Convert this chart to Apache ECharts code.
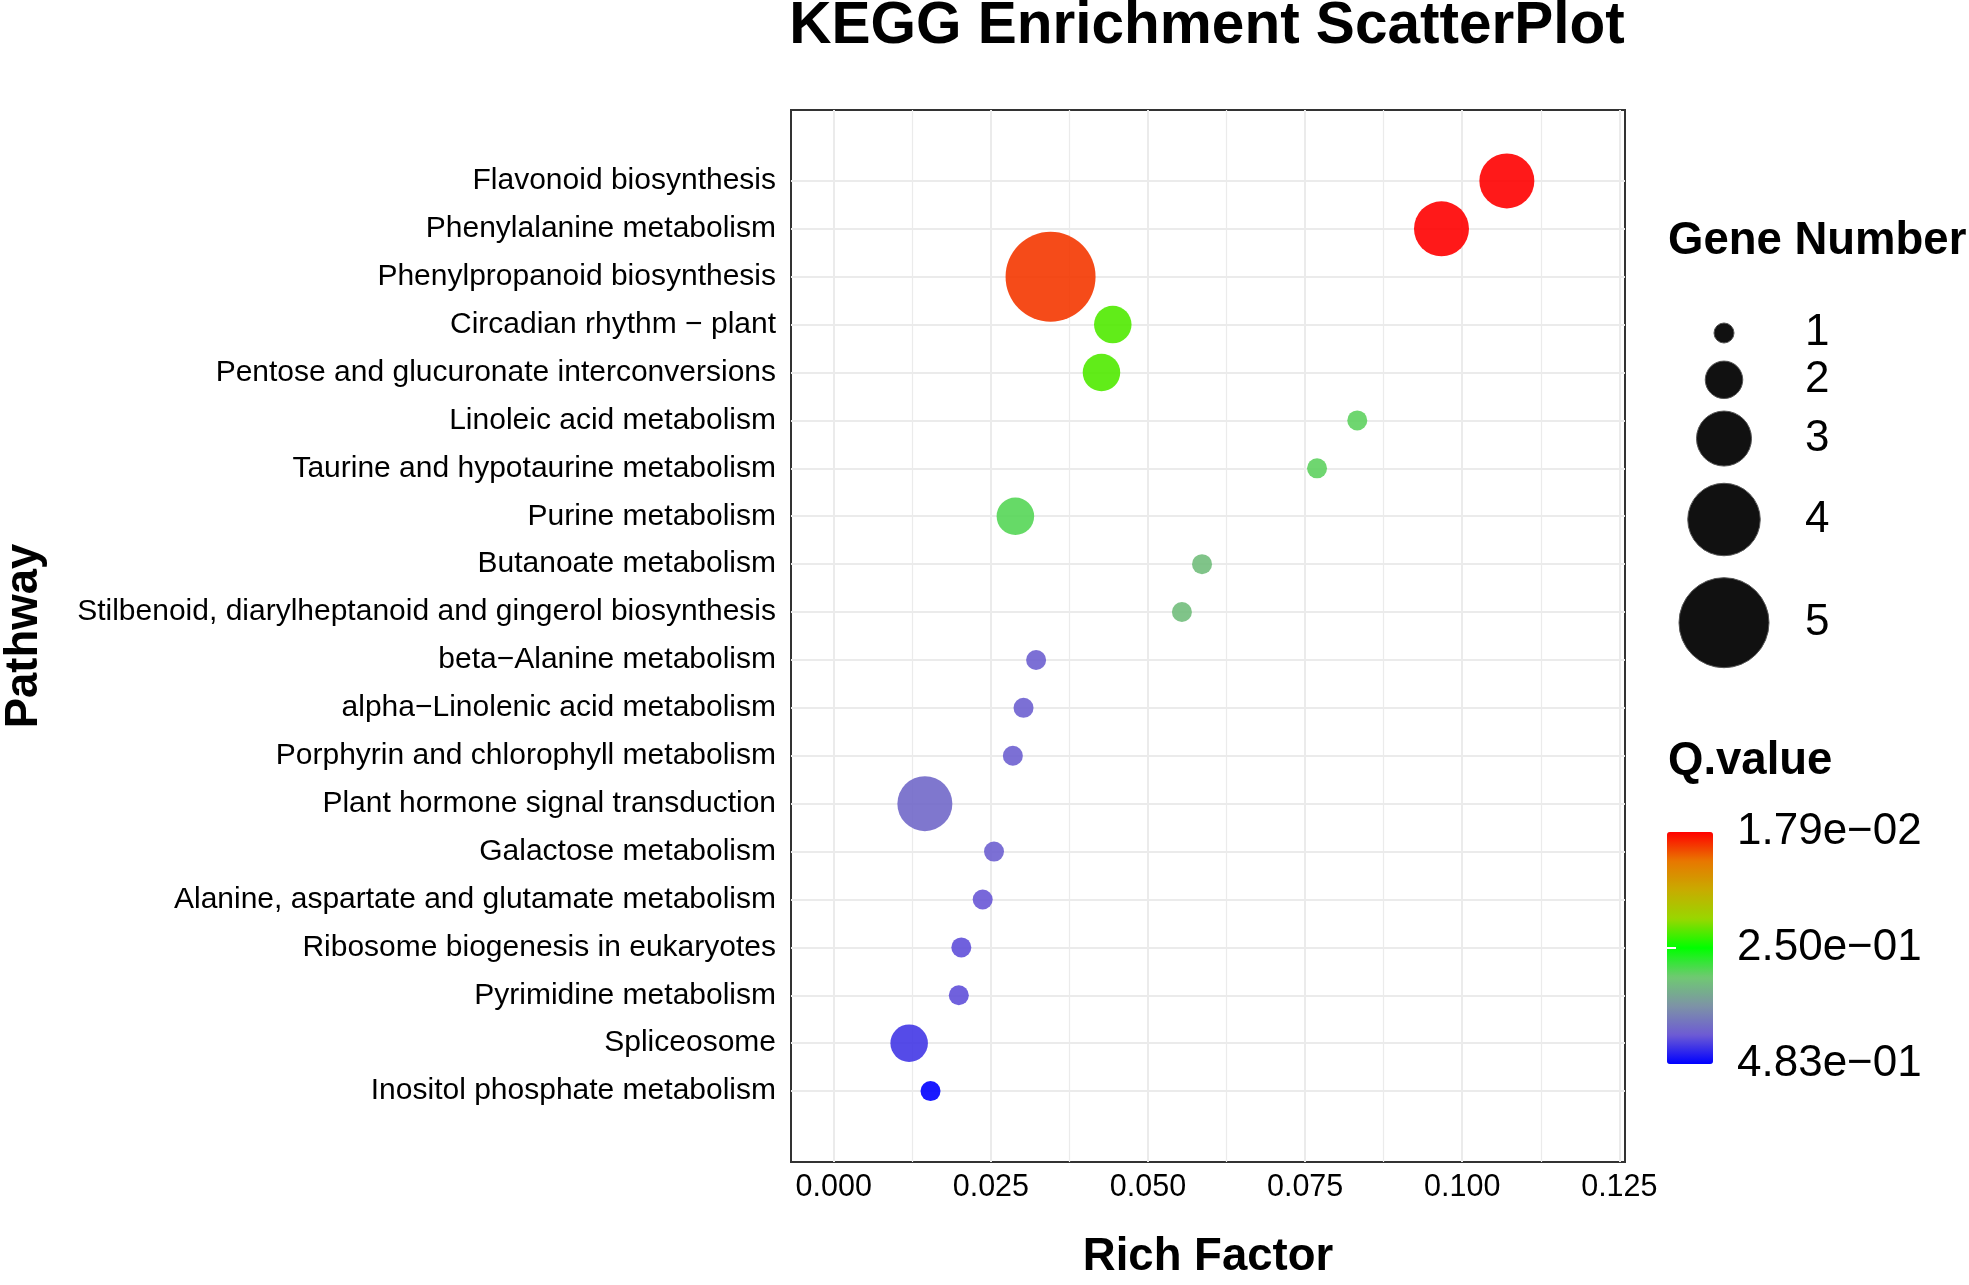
<!DOCTYPE html>
<html>
<head>
<meta charset="utf-8">
<title>KEGG Enrichment ScatterPlot</title>
<script src="https://cdn.jsdelivr.net/npm/echarts@6/dist/echarts.min.js"></script>
<style>
  html, body { margin: 0; padding: 0; background: #fff; }
  #main { width: 1969px; height: 1285px; }
</style>
</head>
<body>
<div id="main"></div>
<script>
// pathways, top to bottom
var pathways = [
    'Flavonoid biosynthesis',
    'Phenylalanine metabolism',
    'Phenylpropanoid biosynthesis',
    'Circadian rhythm − plant',
    'Pentose and glucuronate interconversions',
    'Linoleic acid metabolism',
    'Taurine and hypotaurine metabolism',
    'Purine metabolism',
    'Butanoate metabolism',
    'Stilbenoid, diarylheptanoid and gingerol biosynthesis',
    'beta−Alanine metabolism',
    'alpha−Linolenic acid metabolism',
    'Porphyrin and chlorophyll metabolism',
    'Plant hormone signal transduction',
    'Galactose metabolism',
    'Alanine, aspartate and glutamate metabolism',
    'Ribosome biogenesis in eukaryotes',
    'Pyrimidine metabolism',
    'Spliceosome',
    'Inositol phosphate metabolism'
];
var richFactor = [0.1071, 0.0967, 0.0345, 0.0444, 0.0426, 0.0833, 0.0769, 0.0289, 0.0586, 0.0554,
                  0.0322, 0.0302, 0.0285, 0.0145, 0.0255, 0.0237, 0.0203, 0.0199, 0.0120, 0.0154];
var geneNumber = [3, 3, 5, 2, 2, 1, 1, 2, 1, 1, 1, 1, 1, 3, 1, 1, 1, 1, 2, 1];
var qValue = [0.0179, 0.0179, 0.045, 0.22, 0.22, 0.30, 0.30, 0.295, 0.32, 0.32,
              0.42, 0.42, 0.42, 0.411, 0.42, 0.427, 0.432, 0.432, 0.448, 0.483];

// axis / legend ticks
var xMajorTicks = [0, 0.025, 0.05, 0.075, 0.1, 0.125];
var xMinorTicks = [0.0125, 0.0375, 0.0625, 0.0875, 0.1125];
var geneLevels = [1, 2, 3, 4, 5];
var qTicks = [0.0179, 0.25, 0.483];

var FONT = 'Liberation Sans, Arial, Helvetica, sans-serif';
var GRID_COLOR = '#EBEBEB';

// red -> green -> blue (Lab-like path)
var qColors = ['#FF0000', '#E87700', '#C8AB00', '#98D700', '#00FF00',
               '#6FC972', '#7D93A6', '#6D5BD4', '#0000FF'];

var sizeMin = 20, sizeMax = 90;

function fmtSci(v) {
    var parts = v.toExponential(2).split('e');
    var e = parseInt(parts[1], 10);
    var a = Math.abs(e);
    return parts[0] + 'e' + (e < 0 ? '−' : '+') + (a < 10 ? '0' : '') + a;
}

var points = [];
for (var i = 0; i < pathways.length; i++) {
    points.push([richFactor[i], i, geneNumber[i], qValue[i]]);
}

// size legend key layout (ggplot style keys grow with symbol size)
var legendCenters = [];
var acc = 0;
for (var k = 0; k < geneLevels.length; k++) {
    var d = sizeMin + (geneLevels[k] - 1) / (geneLevels.length - 1) * (sizeMax - sizeMin);
    var h = Math.max(46, 1.27 * d);
    legendCenters.push(acc + h / 2);
    acc += h;
}
var legendHeight = acc;
var legendPoints = geneLevels.map(function (n, idx) {
    return [0.5, legendCenters[idx], n];
});

var myChart = echarts.init(document.getElementById('main'));

var titleStyle = { fontFamily: FONT, fontSize: 45.5, fontWeight: 'bold', color: '#000', lineHeight: 46 };

var option = {
    backgroundColor: '#fff',
    animation: false,
    textStyle: { fontFamily: FONT },
    title: [{
        text: 'KEGG Enrichment ScatterPlot',
        left: 1207,
        top: -2,
        padding: 0,
        textAlign: 'center',
        textStyle: { fontFamily: FONT, fontSize: 58.5, fontWeight: 'bold', color: '#000', lineHeight: 58 }
    }, {
        text: 'Gene Number',
        left: 1668,
        top: 218,
        padding: 0,
        textStyle: titleStyle
    }, {
        text: 'Q.value',
        left: 1668,
        top: 738,
        padding: 0,
        textStyle: titleStyle
    }],
    grid: [{
        left: 789, top: 110, width: 836, height: 1063,
        show: true, borderColor: '#333', borderWidth: 2, backgroundColor: 'transparent'
    }, {
        left: 1680, top: 310, width: 88, height: legendHeight
    }, {
        left: 1667, top: 832, width: 46, height: 232
    }],
    xAxis: [{
        gridIndex: 0,
        type: 'value',
        min: -0.0068,
        max: 0.1259,
        name: 'Rich Factor',
        nameLocation: 'middle',
        nameGap: 72,
        nameTextStyle: titleStyle,
        axisLine: { show: false },
        axisTick: { show: false, customValues: xMajorTicks },
        axisLabel: {
            customValues: xMajorTicks,
            margin: 10,
            fontSize: 30.5,
            color: '#000',
            fontFamily: FONT,
            formatter: function (v) { return v.toFixed(3); }
        },
        splitLine: { show: true, lineStyle: { color: GRID_COLOR, width: 2 } }
    }, {
        gridIndex: 0,
        type: 'value',
        position: 'bottom',
        min: -0.0068,
        max: 0.1259,
        axisLine: { show: false },
        axisTick: { show: false, customValues: xMinorTicks },
        axisLabel: { show: false, customValues: xMinorTicks },
        splitLine: { show: true, lineStyle: { color: GRID_COLOR, width: 1.2 } }
    }, {
        gridIndex: 1, type: 'value', min: 0, max: 1, show: false
    }, {
        gridIndex: 2, type: 'value', min: 0, max: 1, show: false
    }],
    yAxis: [{
        gridIndex: 0,
        type: 'value',
        inverse: true,
        min: -1.48,
        max: pathways.length - 1 + 1.48,
        name: 'Pathway',
        nameLocation: 'middle',
        nameRotate: 90,
        nameGap: 744,
        nameTextStyle: titleStyle,
        axisLine: { show: false },
        axisTick: { show: false, customValues: pathways.map(function (p, j) { return j; }) },
        axisLabel: {
            customValues: pathways.map(function (p, j) { return j; }),
            margin: 15,
            fontSize: 30,
            color: '#000',
            fontFamily: FONT,
            formatter: function (v) { return pathways[Math.round(v)]; }
        },
        splitLine: { show: true, lineStyle: { color: GRID_COLOR, width: 2 } }
    }, {
        gridIndex: 1,
        type: 'value',
        inverse: true,
        min: 0,
        max: legendHeight,
        position: 'right',
        axisLine: { show: false },
        axisTick: { show: false, customValues: legendCenters },
        splitLine: { show: false },
        axisLabel: {
            customValues: legendCenters,
            margin: 37,
            fontSize: 44,
            color: '#000',
            fontFamily: FONT,
            formatter: function (v) {
                var best = 0;
                for (var m = 1; m < legendCenters.length; m++) {
                    if (Math.abs(legendCenters[m] - v) < Math.abs(legendCenters[best] - v)) best = m;
                }
                return String(geneLevels[best]);
            }
        }
    }, {
        gridIndex: 2,
        type: 'value',
        inverse: true,
        min: qTicks[0],
        max: qTicks[qTicks.length - 1],
        position: 'right',
        z: 10,
        axisLine: { show: false },
        axisTick: {
            show: true, inside: true, length: 9,
            customValues: [qTicks[1]],
            lineStyle: { color: '#fff', width: 2 }
        },
        splitLine: { show: false },
        axisLabel: {
            customValues: qTicks,
            margin: 24,
            fontSize: 44,
            color: '#000',
            fontFamily: FONT,
            formatter: fmtSci
        }
    }, {
        gridIndex: 2,
        type: 'value',
        inverse: true,
        min: qTicks[0],
        max: qTicks[qTicks.length - 1],
        position: 'left',
        z: 10,
        axisLine: { show: false },
        axisTick: {
            show: true, inside: true, length: 9,
            customValues: [qTicks[1]],
            lineStyle: { color: '#fff', width: 2 }
        },
        splitLine: { show: false },
        axisLabel: { show: false }
    }],
    visualMap: [{
        type: 'continuous',
        seriesIndex: 0,
        dimension: 3,
        min: qTicks[0],
        max: qTicks[qTicks.length - 1],
        inverse: true,
        orient: 'vertical',
        left: 1667,
        top: 832,
        padding: 0,
        itemWidth: 46,
        itemHeight: 232,
        calculable: false,
        hoverLink: false,
        text: null,
        inRange: { color: qColors }
    }, {
        type: 'continuous',
        show: false,
        seriesIndex: [0, 1],
        dimension: 2,
        min: geneLevels[0],
        max: geneLevels[geneLevels.length - 1],
        inRange: { symbolSize: [sizeMin, sizeMax] }
    }],
    series: [{
        type: 'scatter',
        xAxisIndex: 0,
        yAxisIndex: 0,
        data: points,
        itemStyle: { opacity: 0.9 }
    }, {
        type: 'scatter',
        xAxisIndex: 2,
        yAxisIndex: 1,
        data: legendPoints,
        itemStyle: { color: '#111', opacity: 1, borderColor: '#555', borderWidth: 1 }
    }]
};

myChart.setOption(option);
</script>
</body>
</html>
